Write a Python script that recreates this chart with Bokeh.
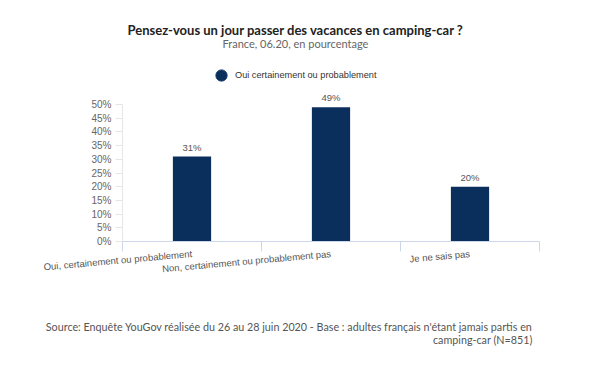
from bokeh.plotting import figure
from bokeh.models import (Range1d, FixedTicker, LinearAxis, Title,
                          PrintfTickFormatter, Legend, LegendItem, ColumnDataSource)
from bokeh.embed import file_html
from bokeh.resources import INLINE
from bokeh.core.properties import value

# ---- data ----
categories = ["Oui, certainement ou probablement",
              "Non, certainement ou probablement pas",
              "Je ne sais pas"]
values = [31, 49, 20]
series_name = "Oui certainement ou probablement"
y_ticks = [0, 5, 10, 15, 20, 25, 30, 35, 40, 45, 50]
y_axis_max = 50
title_text = "Pensez-vous un jour passer des vacances en camping-car ?"
subtitle_text = "France, 06.20, en pourcentage"
source_lines = ["Source: Enquête YouGov réalisée du 26 au 28 juin 2020 - Base : adultes français n'étant jamais partis en",
                "camping-car (N=851)"]

NAVY = "#0b2f5d"
n_cat = len(categories)
centers = [i + 0.5 for i in range(n_cat)]

# frame: x 122..539, y 56..241 ; the axis itself stops at 50 %
H = 374
FRAME_TOP, FRAME_BOTTOM, AXIS_TOP = 56, 241, 104
y_view_max = y_axis_max * (FRAME_BOTTOM - FRAME_TOP) / (FRAME_BOTTOM - AXIS_TOP)

p = figure(width=584, height=H, x_range=Range1d(0, n_cat), y_range=Range1d(0, y_view_max),
           output_backend="svg", toolbar_location=None,
           min_border_left=122, min_border_right=45, min_border_top=FRAME_TOP,
           min_border_bottom=H - FRAME_BOTTOM)
p.outline_line_color = None
p.xgrid.visible = False
p.ygrid.visible = False

# boundary-tick axis
xa = p.xaxis[0]
xa.ticker = FixedTicker(ticks=list(range(n_cat + 1)))
xa.axis_line_color = "#ccd6eb"
xa.major_tick_line_color = "#ccd6eb"
xa.major_tick_out = 10
xa.major_tick_in = 0
xa.minor_tick_line_color = None
xa.major_label_text_font_size = "0px"
xa.major_label_standoff = 0

cat_axis = LinearAxis(ticker=FixedTicker(ticks=centers),
                      major_label_overrides={c: lab for c, lab in zip(centers, categories)})
cat_axis.axis_line_color = None
cat_axis.major_tick_line_color = None
cat_axis.minor_tick_line_color = None
cat_axis.major_label_orientation = 0.09
cat_axis.major_label_standoff = -4
cat_axis.major_label_text_font = "Liberation Sans"
cat_axis.major_label_text_font_size = "9.5px"
cat_axis.major_label_text_color = "#555555"
p.add_layout(cat_axis, "below")

ya = p.yaxis[0]
ya.ticker = FixedTicker(ticks=y_ticks)
ya.bounds = (0, y_axis_max)
ya.formatter = PrintfTickFormatter(format="%d%%")
ya.axis_line_color = "#e6e6e6"
ya.major_tick_line_color = "#e6e6e6"
ya.major_tick_out = 7
ya.major_tick_in = 0
ya.minor_tick_line_color = None
ya.major_label_standoff = 4
ya.major_label_text_font = "Liberation Sans"
ya.major_label_text_font_size = "10px"
ya.major_label_text_color = "#666666"

src = ColumnDataSource(dict(x=centers, val=values, lab=[f"{v}%" for v in values]))
p.vbar(x="x", top="val", width=0.275, source=src, fill_color=NAVY, line_color=None)
p.text(x="x", y="val", text="lab", source=src,
       y_offset=-4, text_align="center", text_baseline="bottom",
       text_font=value("Liberation Sans"), text_font_size="9.5px", text_color="#555555")

# legend inside the (extended) frame; the marker renderer holds no visible point
nan = float("nan")
dummy = p.scatter(x=[nan], y=[nan], marker="circle", fill_color=NAVY, line_color=NAVY)
legend = Legend(items=[LegendItem(label=series_name, renderers=[dummy])],
                location=(85, 152), padding=0, margin=0, glyph_width=28, glyph_height=28,
                label_standoff=0, border_line_color=None, background_fill_alpha=0,
                label_text_font="Liberation Sans", label_text_font_size="9.2px",
                label_text_color="#333333")
p.add_layout(legend, "center")

# titles (first added = closest to the frame)
p.add_layout(Title(text=subtitle_text, align="left", offset=100, standoff=10,
                   vertical_align="top",
                   text_font="Lato", text_font_style="normal", text_font_size="11px",
                   text_color="#666666"), "above")
p.add_layout(Title(text=title_text, align="left", offset=5, standoff=-12,
                   vertical_align="bottom",
                   text_font="Lato", text_font_style="bold", text_font_size="13px",
                   text_color="#222222"), "above")

# source (below)
p.add_layout(Title(text=source_lines[0], align="right", offset=7, standoff=75,
                   vertical_align="top",
                   text_font="Lato", text_font_style="normal", text_font_size="10.75px",
                   text_color="#555555"), "below")
p.add_layout(Title(text=source_lines[1], align="right", offset=7, standoff=-79,
                   vertical_align="top",
                   text_font="Lato", text_font_style="normal", text_font_size="10.75px",
                   text_color="#555555"), "below")

open("out.html", "w").write(file_html(p, INLINE))
